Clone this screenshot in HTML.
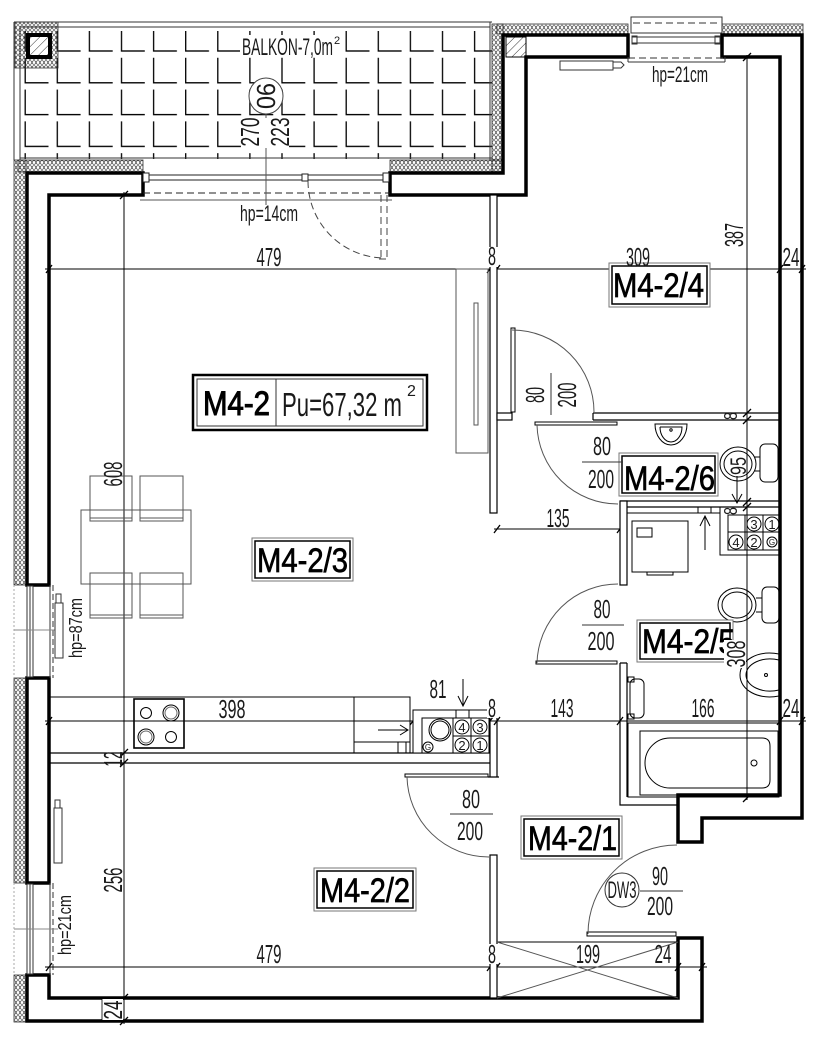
<!DOCTYPE html>
<html><head><meta charset="utf-8">
<style>
html,body{margin:0;padding:0;background:#fff;}
svg{display:block;}
text{font-family:"Liberation Sans",sans-serif;fill:#1a1a1a;stroke:none;}
.d{font-size:26px;}
.r{font-size:34px;fill:#000;stroke:#000;stroke-width:0.7px;}
</style></head><body>
<svg width="820" height="1045" viewBox="0 0 820 1045" xmlns="http://www.w3.org/2000/svg">
<defs>
<pattern id="ins" width="4" height="5" patternUnits="userSpaceOnUse"><circle cx="2" cy="2.5" r="1.8" fill="none" stroke="#333" stroke-width="0.7"/></pattern>
<pattern id="tile" x="24.5" y="20" width="32.1" height="31.8" patternUnits="userSpaceOnUse"><path d="M0.7,6 V31 H24" fill="none" stroke="#000" stroke-width="1.3"/></pattern>
<pattern id="diag" width="6" height="6" patternUnits="userSpaceOnUse" patternTransform="rotate(45)"><line x1="0" y1="0" x2="0" y2="6" stroke="#333" stroke-width="1"/></pattern>
</defs>

<!-- BALCONY -->
<rect x="24" y="31" width="468" height="128" fill="url(#tile)"/>
<g fill="none" stroke="#333" stroke-width="1">
<path d="M14,22 H492 M20,27 H490 M14,22 V160 M20,27 V160 M490,22 V160 M20,158 H492"/>
</g>
<!-- insulation bands -->
<g stroke="#333" stroke-width="0.8">
<rect x="15" y="22" width="43" height="46" fill="url(#ins)"/>
<rect x="14" y="160" width="12" height="425" fill="url(#ins)"/>
<rect x="14" y="678" width="12" height="205" fill="url(#ins)"/>
<rect x="14" y="975" width="12" height="47" fill="url(#ins)"/>
<rect x="18" y="160" width="125" height="12" fill="url(#ins)"/>
<rect x="390" y="160" width="113" height="12" fill="url(#ins)"/>
<rect x="492" y="24" width="11" height="148" fill="url(#ins)"/>
<rect x="497" y="24" width="131" height="10" fill="url(#ins)"/>
<rect x="722" y="24" width="81" height="10" fill="url(#ins)"/>
</g>
<!-- column top-left -->
<rect x="28" y="35" width="22" height="22" fill="#fff" stroke="#000" stroke-width="4"/>
<rect x="30" y="37" width="18" height="18" fill="url(#diag)"/>

<!-- EXTERIOR WALLS -->
<g fill="#fff" stroke="#000" stroke-width="3.5" stroke-linejoin="miter">
<path d="M27,173 H143 V195 H49 V585 H27 Z"/>
<path d="M390,173 H503 V35 H628 V57 H526 V195 H390 Z"/>
<path d="M722,35 H802 V818 H702 V842 H678 V795 H780 V57 H722 Z"/>
<path d="M27,678 H49 V883 H27 Z"/>
<path d="M27,975 H49 V998 H678 V938 H702 V1021 H27 Z"/>
</g>
<rect x="506" y="37" width="20" height="20" fill="url(#diag)" stroke="#000" stroke-width="1"/>

<!-- balcony door window -->
<g fill="none" stroke="#222" stroke-width="1">
<path d="M145,175 H388 M145,180 H388"/>
<rect x="143" y="173" width="6" height="9" fill="#fff"/>
<rect x="302" y="174" width="6" height="7" fill="#fff"/>
<rect x="383" y="173" width="6" height="9" fill="#fff"/>
<path d="M143,193 H390" stroke-dasharray="7,4"/>
<path d="M140,200 H392" stroke="#555"/>
<path d="M308,181 A77,77 0 0 0 385,258" stroke-dasharray="7,4" stroke="#444"/>
<path d="M381,195 V259 M387,195 V259 M379,259 H388" stroke-dasharray="7,4" stroke="#444"/>
</g>

<!-- top window -->
<g fill="none" stroke="#333" stroke-width="1">
<rect x="631" y="17" width="91" height="16" fill="#fff"/>
<path d="M633,23 H720" stroke-dasharray="7,4"/>
<path d="M632,37 H720 M632,43 H720"/>
<rect x="632" y="36" width="5" height="8"/>
<rect x="715" y="36" width="5" height="8"/>
<path d="M628,58 H725" stroke-dasharray="7,4"/>
<path d="M628,62 H725 M628,57 V62 M725,57 V62"/>
<rect x="560" y="61" width="53" height="9" fill="#fff"/>
<path d="M613,62 H621 L624,65 L621,68 H613"/>
</g>

<!-- left windows -->
<g fill="none" stroke="#333" stroke-width="1">
<rect x="27" y="586" width="6" height="91" fill="#fff"/>
<path d="M30,586 V677"/>
<path d="M50,585 V678"/>
<path d="M53,585 V678" stroke-dasharray="6,3"/>
<path d="M14,630 H60" stroke="#888"/>
<path d="M14,585 V678" stroke="#aaa" stroke-dasharray="2,2"/>
<rect x="55" y="603" width="8" height="55" fill="#fff"/>
<rect x="56" y="594" width="5" height="9" fill="#fff"/>
<rect x="27" y="884" width="6" height="90" fill="#fff"/>
<path d="M30,884 V974"/>
<path d="M50,883 V975"/>
<path d="M53,883 V975" stroke-dasharray="6,3"/>
<path d="M14,929 H58" stroke="#888"/>
<path d="M14,883 V975" stroke="#aaa" stroke-dasharray="2,2"/>
<rect x="54" y="808" width="8" height="55" fill="#fff"/>
<rect x="55" y="800" width="5" height="8" fill="#fff"/>
</g>

<!-- DIMENSION LINES -->
<g fill="none" stroke="#000" stroke-width="1">
<path d="M45,269 H806"/>
<path d="M45,721 H806"/>
<path d="M45,967 H707"/>
<path d="M124,192 V1024"/>
<path d="M747,55 V800"/>
<path d="M494,529 H621"/>
<path d="M266,114 V205" stroke="#555"/>
<g stroke-width="1.3">
<path d="M46,273 l6,-8 M487,273 l6,-8 M494,273 l6,-8 M777,273 l6,-8 M799,273 l6,-8"/>
<path d="M46,725 l6,-8 M410,725 l6,-8 M487,725 l6,-8 M494,725 l6,-8 M617,725 l6,-8 M777,725 l6,-8 M799,725 l6,-8"/>
<path d="M46,971 l6,-8 M487,971 l6,-8 M494,971 l6,-8 M675,971 l6,-8 M699,971 l6,-8"/>
<path d="M120,199 l8,-8 M120,757 l8,-8 M120,767 l8,-8 M120,1002 l8,-8 M120,1025 l8,-8"/>
<path d="M743,61 l8,-8 M743,417 l8,-8 M743,424 l8,-8 M743,506 l8,-8 M743,511 l8,-8 M743,802 l8,-8"/>
<path d="M494,533 l6,-8 M617,533 l6,-8"/>
</g>
</g>

<!-- INTERIOR PARTITIONS -->
<g fill="#fff" stroke="#000" stroke-width="1.2">
<rect x="490" y="195" width="7" height="318"/>
<rect x="497" y="413" width="15" height="7"/>
<path d="M593,413 H780 M593,420 H780 M593,413 V420" fill="none"/>
<path d="M620,501 H780 M620,507 H780" fill="none"/>
<rect x="620" y="501" width="7" height="84"/>
<path d="M620,663 V805 H678 M627,663 V797 M620,663 H627" fill="none"/>
<path d="M49,753 H490 M49,763 H490" fill="none"/>
<path d="M490,711 V777 M497,718 V777 M488,777 H499" fill="none"/>
<rect x="490" y="855" width="7" height="143"/>
</g>

<!-- DOORS -->
<g fill="#fff" stroke="#000" stroke-width="1">
<rect x="511" y="328" width="4" height="84"/>
<rect x="535" y="422" width="82" height="3"/>
<rect x="536" y="661" width="81" height="3"/>
<rect x="405" y="774" width="83" height="3"/>
<rect x="587" y="932" width="89" height="4"/>
</g>
<g fill="none" stroke="#555" stroke-width="1">
<path d="M512,330 A82,82 0 0 1 594,412"/>
<path d="M537,425 A81,81 0 0 0 618,504"/>
<path d="M537,663 A81,81 0 0 1 618,584"/>
<path d="M407,777 A82,82 0 0 0 489,857"/>
<path d="M588,934 A89,89 0 0 1 677,845"/>
</g>

<!-- doormat -->
<g fill="none" stroke="#555" stroke-width="1">
<rect x="497" y="942" width="181" height="56" stroke="#000"/>
<path d="M497,942 L678,998 M497,998 L678,942"/>
</g>

<!-- FURNITURE -->
<g fill="none" stroke="#555" stroke-width="1">
<rect x="81" y="510" width="110" height="74"/>
<rect x="90" y="476" width="42" height="45"/>
<rect x="140" y="476" width="43" height="45"/>
<rect x="90" y="573" width="42" height="45"/>
<rect x="140" y="573" width="43" height="45"/>
<path d="M90,518 H132 M140,518 H183 M90,615 H132 M140,615 H183"/>
<rect x="456" y="269" width="32" height="184"/>
<rect x="474" y="303" width="4" height="122"/>
</g>
<!-- kitchen -->
<g fill="none" stroke="#000" stroke-width="1">
<path d="M49,697 H410 V753"/>
<rect x="134" y="699" width="50" height="49" stroke-width="1.6"/>
<circle cx="146" cy="713" r="5.5"/>
<circle cx="171" cy="713" r="8"/><circle cx="171" cy="713" r="6" stroke="#666"/>
<circle cx="146" cy="737" r="8"/><circle cx="146" cy="737" r="6" stroke="#666"/>
<circle cx="171" cy="737" r="5.5"/>
<path d="M354,697 V753 M354,742 H410"/>
<rect x="398" y="742" width="8" height="11"/>
<path d="M378,730 H408 M400,725 L408,730 L400,735"/>
<rect x="413" y="710" width="77" height="43" fill="#fff"/>
<path d="M422,753 V718 H490"/>
<circle cx="440" cy="730" r="11"/><circle cx="440" cy="730" r="9"/>
<circle cx="428" cy="747" r="5"/>
<rect x="456" y="710" width="13" height="8"/>
<rect x="453" y="718" width="36" height="35"/>
<path d="M471,718 V753 M453,736 H489"/>
<circle cx="462" cy="727" r="7"/><circle cx="480" cy="727" r="7"/>
<circle cx="462" cy="745" r="7"/><circle cx="480" cy="745" r="7"/>
<path d="M463,679 V706 M458,696 L463,706 L468,696"/>
</g>
<g font-size="13" text-anchor="middle">
<text x="462" y="732">4</text><text x="480" y="732">3</text>
<text x="462" y="750">2</text><text x="480" y="750">1</text>
<text x="428" y="750" font-size="8">G</text>
</g>

<!-- WC -->
<g fill="none" stroke="#000" stroke-width="1">
<path d="M655,424 H687 A16,21 0 0 1 655,424 Z"/>
<path d="M660,427 H682 A11,15 0 0 1 660,427"/>
<circle cx="671" cy="430" r="1.2"/>
<ellipse cx="738" cy="464" rx="18" ry="17"/>
<ellipse cx="738" cy="464" rx="14" ry="13"/>
<rect x="760" y="444" width="18" height="38" rx="5"/>
<path d="M754,457 H760 M754,471 H760"/>
<path d="M737,476 V503 M732,494 L737,503 L742,494"/>
<path d="M720,507 V555 H780"/>
<rect x="728" y="515" width="52" height="35"/>
<path d="M745,515 V550 M763,515 V550 M728,532 H780"/>
<circle cx="754" cy="524" r="7"/><circle cx="772" cy="524" r="7"/>
<circle cx="736" cy="542" r="7"/><circle cx="754" cy="542" r="7"/><circle cx="772" cy="542" r="5"/>
<path d="M627,513 H720"/>
<rect x="632" y="521" width="56" height="51"/>
<rect x="637" y="528" width="15" height="9"/>
<rect x="647" y="572" width="26" height="3"/>
<rect x="698" y="507" width="13" height="6"/>
<path d="M705,550 V516 M700,526 L705,516 L710,526"/>
</g>
<g font-size="13" text-anchor="middle">
<text x="754" y="529">3</text><text x="772" y="529">1</text>
<text x="736" y="547">4</text><text x="754" y="547">2</text>
<text x="772" y="545" font-size="8">G</text>
</g>

<!-- BATHROOM -->
<g fill="none" stroke="#000" stroke-width="1">
<ellipse cx="737" cy="605" rx="19" ry="17"/>
<ellipse cx="737" cy="605" rx="15" ry="13"/>
<rect x="762" y="587" width="17" height="36" rx="5"/>
<path d="M756,598 H762 M756,612 H762"/>
<path d="M779,654 C758,650 740,660 740,675 C740,690 758,700 779,696"/>
<path d="M779,660 C762,656 746,664 746,675 C746,686 762,694 779,690"/>
<circle cx="766" cy="675" r="1.5"/>
<rect x="630" y="679" width="14" height="39" rx="5"/>
<rect x="628" y="677" width="6" height="5"/><rect x="628" y="714" width="6" height="5"/>
<rect x="628" y="723" width="151" height="74"/>
<rect x="640" y="731" width="138" height="64"/>
<path d="M670,738 H762 Q770,738 770,746 V780 Q770,788 762,788 H670 A25,25 0 0 1 670,738 Z"/>
<circle cx="754" cy="763" r="3"/>
</g>

<!-- LABEL BOXES -->
<g fill="#fff" stroke-width="1">
<rect x="193" y="375" width="234" height="55" stroke="#000" stroke-width="2.5"/>
<rect x="197" y="379" width="226" height="47" stroke="#333"/>
<path d="M276,379 V426" stroke="#333"/>
<rect x="609" y="263" width="101" height="44" stroke="#777"/>
<rect x="612" y="266" width="95" height="38" stroke="#000" stroke-width="1.5"/>
<rect x="252" y="538" width="101" height="43" stroke="#777"/>
<rect x="255" y="541" width="95" height="37" stroke="#000" stroke-width="1.5"/>
<rect x="619" y="453" width="99" height="43" stroke="#777"/>
<rect x="622" y="456" width="93" height="37" stroke="#000" stroke-width="1.5"/>
<rect x="637" y="620" width="96" height="42" stroke="#777"/>
<rect x="640" y="623" width="90" height="36" stroke="#000" stroke-width="1.5"/>
<rect x="521" y="816" width="101" height="43" stroke="#777"/>
<rect x="524" y="819" width="95" height="37" stroke="#000" stroke-width="1.5"/>
<rect x="314" y="868" width="102" height="43" stroke="#777"/>
<rect x="317" y="871" width="96" height="37" stroke="#000" stroke-width="1.5"/>
</g>

<!-- ROOM LABELS -->
<text class="r" x="203" y="415" textLength="67" lengthAdjust="spacingAndGlyphs" style="stroke-width:1px">M4-2</text>
<text class="r" x="613" y="297" textLength="91" lengthAdjust="spacingAndGlyphs">M4-2/4</text>
<text class="r" x="257" y="572" textLength="91" lengthAdjust="spacingAndGlyphs">M4-2/3</text>
<text class="r" x="624" y="490" textLength="91" lengthAdjust="spacingAndGlyphs">M4-2/6</text>
<text class="r" x="642" y="653" textLength="93" lengthAdjust="spacingAndGlyphs">M4-2/5</text>
<text class="r" x="528" y="850" textLength="89" lengthAdjust="spacingAndGlyphs">M4-2/1</text>
<text class="r" x="320" y="902" textLength="90" lengthAdjust="spacingAndGlyphs">M4-2/2</text>
<text x="282" y="416" font-size="33" fill="#222" textLength="120" lengthAdjust="spacingAndGlyphs">Pu=67,32 m</text>
<text x="407" y="396" font-size="16" fill="#222">2</text>

<!-- BALCONY TEXTS -->
<rect x="240" y="35" width="102" height="21" fill="#fff"/>
<text x="242" y="55" font-size="24" textLength="91" lengthAdjust="spacingAndGlyphs">BALKON-7,0m</text>
<text x="334" y="44" font-size="11">2</text>
<rect x="241" y="118" width="48" height="30" fill="#fff"/>
<ellipse cx="266" cy="96" rx="17" ry="18" fill="#fff" stroke="#444" stroke-width="1"/>
<text class="d" x="266" y="105" text-anchor="middle" textLength="26" lengthAdjust="spacingAndGlyphs" transform="rotate(-90 266 96)">06</text>
<text class="d" x="250" y="141" text-anchor="middle" textLength="29" lengthAdjust="spacingAndGlyphs" transform="rotate(-90 250 132)">270</text>
<text class="d" x="280" y="141" text-anchor="middle" textLength="29" lengthAdjust="spacingAndGlyphs" transform="rotate(-90 280 132)">223</text>
<text x="269" y="221" font-size="22" text-anchor="middle" textLength="58" lengthAdjust="spacingAndGlyphs">hp=14cm</text>
<text x="680" y="82" font-size="22" text-anchor="middle" textLength="56" lengthAdjust="spacingAndGlyphs">hp=21cm</text>
<text x="76" y="634" font-size="18" text-anchor="middle" textLength="60" lengthAdjust="spacingAndGlyphs" transform="rotate(-90 76 628)">hp=87cm</text>
<text x="65" y="931" font-size="18" text-anchor="middle" textLength="60" lengthAdjust="spacingAndGlyphs" transform="rotate(-90 65 925)">hp=21cm</text>

<!-- DIM TEXTS -->
<rect x="487" y="247" width="11" height="20" fill="#fff"/>
<rect x="487" y="698" width="11" height="20" fill="#fff"/>
<rect x="487" y="944" width="11" height="20" fill="#fff"/>
<text class="d" x="269" y="266" text-anchor="middle" textLength="25" lengthAdjust="spacingAndGlyphs">479</text>
<text class="d" x="492" y="265" text-anchor="middle" textLength="8" lengthAdjust="spacingAndGlyphs">8</text>
<text class="d" x="638" y="266" text-anchor="middle" textLength="24" lengthAdjust="spacingAndGlyphs">309</text>
<text class="d" x="791" y="266" text-anchor="middle" textLength="17" lengthAdjust="spacingAndGlyphs">24</text>
<text class="d" x="232" y="718" text-anchor="middle" textLength="27" lengthAdjust="spacingAndGlyphs">398</text>
<text class="d" x="438" y="698" text-anchor="middle" textLength="17" lengthAdjust="spacingAndGlyphs">81</text>
<text class="d" x="492" y="717" text-anchor="middle" textLength="8" lengthAdjust="spacingAndGlyphs">8</text>
<text class="d" x="562" y="717" text-anchor="middle" textLength="23" lengthAdjust="spacingAndGlyphs">143</text>
<text class="d" x="703" y="717" text-anchor="middle" textLength="23" lengthAdjust="spacingAndGlyphs">166</text>
<text class="d" x="791" y="717" text-anchor="middle" textLength="17" lengthAdjust="spacingAndGlyphs">24</text>
<text class="d" x="269" y="963" text-anchor="middle" textLength="25" lengthAdjust="spacingAndGlyphs">479</text>
<text class="d" x="492" y="963" text-anchor="middle" textLength="8" lengthAdjust="spacingAndGlyphs">8</text>
<text class="d" x="588" y="963" text-anchor="middle" textLength="24" lengthAdjust="spacingAndGlyphs">199</text>
<text class="d" x="663" y="963" text-anchor="middle" textLength="17" lengthAdjust="spacingAndGlyphs">24</text>
<text class="d" x="558" y="527" text-anchor="middle" textLength="23" lengthAdjust="spacingAndGlyphs">135</text>
<!-- door labels -->
<g stroke="#333" stroke-width="1">
<path d="M450,814 H493 M582,462 H623 M582,625 H624 M640,891 H683 M551,373 V415"/>
</g>
<text class="d" x="471" y="808" text-anchor="middle" textLength="18" lengthAdjust="spacingAndGlyphs">80</text>
<text class="d" x="470" y="840" text-anchor="middle" textLength="26" lengthAdjust="spacingAndGlyphs">200</text>
<text class="d" x="602" y="455" text-anchor="middle" textLength="18" lengthAdjust="spacingAndGlyphs">80</text>
<text class="d" x="601" y="488" text-anchor="middle" textLength="26" lengthAdjust="spacingAndGlyphs">200</text>
<text class="d" x="602" y="618" text-anchor="middle" textLength="17" lengthAdjust="spacingAndGlyphs">80</text>
<text class="d" x="601" y="650" text-anchor="middle" textLength="27" lengthAdjust="spacingAndGlyphs">200</text>
<text class="d" x="660" y="885" text-anchor="middle" textLength="16" lengthAdjust="spacingAndGlyphs">90</text>
<text class="d" x="660" y="915" text-anchor="middle" textLength="26" lengthAdjust="spacingAndGlyphs">200</text>
<text class="d" x="535" y="404" text-anchor="middle" textLength="16" lengthAdjust="spacingAndGlyphs" transform="rotate(-90 535 395)">80</text>
<text class="d" x="567" y="404" text-anchor="middle" textLength="25" lengthAdjust="spacingAndGlyphs" transform="rotate(-90 567 395)">200</text>
<ellipse cx="622" cy="890" rx="17" ry="17" fill="#fff" stroke="#333" stroke-width="1"/>
<text x="622" y="898" font-size="24" text-anchor="middle" textLength="29" lengthAdjust="spacingAndGlyphs">DW3</text>

<!-- rotated dims -->
<text class="d" x="734" y="244" text-anchor="middle" textLength="24" lengthAdjust="spacingAndGlyphs" transform="rotate(-90 734 235)">387</text>
<text class="d" x="113" y="483" text-anchor="middle" textLength="25" lengthAdjust="spacingAndGlyphs" transform="rotate(-90 113 474)">608</text>
<text class="d" x="113" y="768" text-anchor="middle" textLength="15" lengthAdjust="spacingAndGlyphs" transform="rotate(-90 113 759)">12</text>
<text class="d" x="113" y="889" text-anchor="middle" textLength="25" lengthAdjust="spacingAndGlyphs" transform="rotate(-90 113 880)">256</text>
<rect x="102" y="999" width="21" height="21" fill="#fff"/>
<path d="M102,999 V1020" stroke="#000" stroke-width="0.8"/>
<text class="d" x="113" y="1019" text-anchor="middle" textLength="19" lengthAdjust="spacingAndGlyphs" transform="rotate(-90 113 1010)">24</text>
<rect x="724" y="640" width="22" height="28" fill="#fff"/>
<text class="d" x="736" y="663" text-anchor="middle" textLength="27" lengthAdjust="spacingAndGlyphs" transform="rotate(-90 736 654)">308</text>
<text x="738" y="474" font-size="22" text-anchor="middle" textLength="18" lengthAdjust="spacingAndGlyphs" transform="rotate(-90 738 466)">95</text>
<text x="731" y="422" font-size="18" text-anchor="middle" textLength="8" lengthAdjust="spacingAndGlyphs" transform="rotate(-90 731 416)">8</text>
<text x="731" y="517" font-size="18" text-anchor="middle" textLength="8" lengthAdjust="spacingAndGlyphs" transform="rotate(-90 731 511)">8</text>
</svg>
</body></html>
